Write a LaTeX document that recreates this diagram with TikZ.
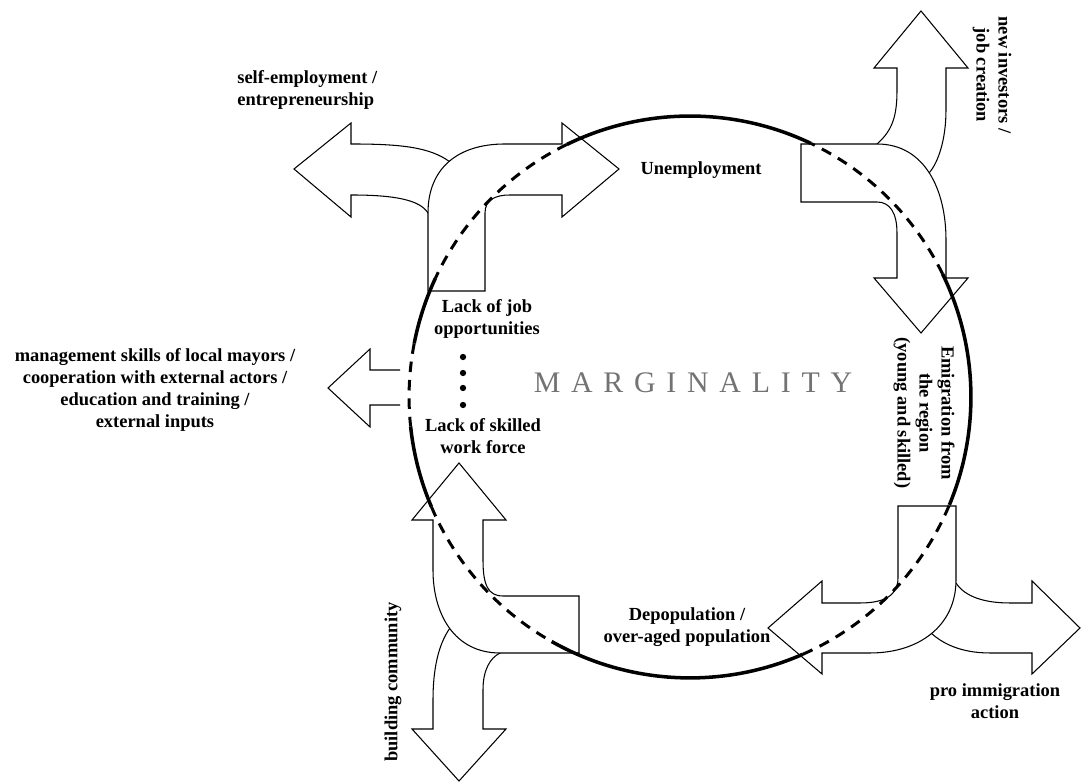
\documentclass[tikz,border=0pt]{standalone}
\usepackage{fontspec}
\setmainfont{Liberation Serif}
\newfontfamily\margfont[LetterSpace=36]{Liberation Serif}

\begin{document}
\begin{tikzpicture}[x=0.02cm,y=0.02cm,
  blk/.style={draw, fill=white, line width=0.6pt, line join=miter},
  lbl/.style={font=\fontsize{10.5}{12.5}\selectfont\bfseries, align=center, inner sep=0pt},
  ring/.style={line width=2pt},
  ringd/.style={line width=1.7pt, dash pattern=on 6pt off 4.5pt}]
  \useasboundingbox (0,0) rectangle (1083,783);
  \coordinate (c) at (690,386);
  % 分支箭头
  \filldraw[blk] (450,621) .. controls (430,636) and (400,639) .. (351,639) -- (351,660) -- (294,614)
    -- (351,566) -- (351,588) .. controls (395,588) and (420,583) .. (428,570) -- cycle;
  \filldraw[blk] (877,639) .. controls (893,653) and (897,668) .. (897,693) -- (897,715) -- (874,715)
    -- (921,772) -- (968,715) -- (946,715) -- (946,673) .. controls (946,643) and (938,620) .. (929,610) -- cycle;
  \filldraw[blk] (956,200) .. controls (965,186) and (985,180) .. (1010,180) -- (1032,180) -- (1032,202)
    -- (1080,155) -- (1032,109) -- (1032,130) -- (990,130) .. controls (960,130) and (942,140) .. (931,150) -- cycle;
  \filldraw[blk] (450,155) .. controls (438,138) and (433,113) .. (433,83) -- (433,54) -- (412,54)
    -- (459,2) -- (506,54) -- (483,54) -- (483,93) .. controls (483,113) and (490,125) .. (500,130) -- cycle;
  % 弯曲的主箭头
  \filldraw[blk] (428,492) -- (428,570) .. controls (428,615) and (458,639) .. (505,639) -- (562,639)
    -- (562,660) -- (619,614) -- (562,566) -- (562,588) -- (510,588) .. controls (495,588) and (485,583) .. (485,570)
    -- (485,492) -- cycle;
  \filldraw[blk] (801,639) -- (877,639) .. controls (925,639) and (946,593) .. (946,543) -- (946,505)
    -- (968,505) -- (921,450) -- (874,505) -- (897,505) -- (897,550) .. controls (897,570) and (890,581) .. (877,581)
    -- (801,581) -- cycle;
  \filldraw[blk] (898,277) -- (898,205) .. controls (898,188) and (885,180) .. (860,180) -- (822,180)
    -- (822,202) -- (768,155) -- (822,109) -- (822,130) -- (870,130) .. controls (920,130) and (956,158) .. (956,203)
    -- (956,277) -- cycle;
  \filldraw[blk] (579,187) -- (503,187) .. controls (488,187) and (483,198) .. (483,223) -- (483,263)
    -- (506,263) -- (459,320) -- (412,263) -- (433,263) -- (433,213) .. controls (433,168) and (455,130) .. (500,130)
    -- (579,130) -- cycle;
  % 左侧箭头
  \draw[blk, fill=none] (400,413) -- (370,413) -- (370,434) -- (328,395) -- (370,356) -- (370,378) -- (400,378);
  % 圆：实线与虚线
  \foreach \a/\b in {155/169, 186/203, 240.5/293.7, 337.4/386, 64.5/116}
    \draw[ring] (c) ++(\a:5.62cm) arc[start angle=\a, end angle=\b, radius=5.62cm];
  \foreach \a/\b in {116/155, 169/186, 203/240.5, 293.7/337.4, 26/64.5}
    \draw[ringd] (c) ++(\a:5.62cm) arc[start angle=\a, end angle=\b, radius=5.62cm];
  % 四个点
  \foreach \y in {426,410,395,378}
    \fill (463,\y) circle[radius=1.8pt];
  % 文字
  \node[lbl, anchor=west, align=left] (selfemp) at (237,693) {self-employment /\\entrepreneurship};
  \node[lbl] (unemp) at (701,613) {Unemployment};
  \node[lbl, rotate=-90] (invest) at (992,708) {new investors /\\job creation};
  \node[lbl, rotate=-90] (emig) at (924,370) {Emigration from\\the region\\(young and skilled)};
  \node[lbl] (lackjob) at (487,464) {Lack of job\\opportunities};
  \node[lbl] (lackskill) at (483,347) {Lack of skilled\\work force};
  \node[font=\margfont\fontsize{17}{20}\selectfont, text=black!55] (marg) at (693,400) {MARGINALITY};
  \node[lbl] (mgmt) at (155,393) {management skills of local mayors /\\cooperation with external actors /\\education and training /\\external inputs};
  \node[lbl] (depop) at (687,156) {Depopulation /\\over-aged population};
  \node[lbl] (proimm) at (995,82) {pro immigration\\action};
  \node[lbl, rotate=90] (build) at (393,101) {building community};
\end{tikzpicture}
\end{document}
